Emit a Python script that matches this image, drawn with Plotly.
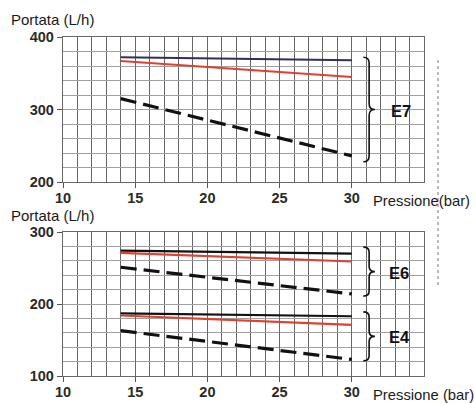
import plotly.graph_objects as go

# ---- data ----
pressure = [14, 30]
e7_top = [372, 368]
e7_red = [367, 345]
e7_dash = [315, 236]
e6_top = [274, 270]
e6_red = [271, 259]
e6_dash = [251, 214]
e4_top = [187, 183]
e4_red = [184, 171]
e4_dash = [163, 123]

x_ticks = [10, 15, 20, 25, 30]
y_ticks_top = [200, 300, 400]
y_ticks_bot = [100, 200, 300]

W, H = 476, 403
fig = go.Figure()

RED = "#e2402f"
NAVY = "#30305a"
BLK = "#111111"
DASH = "16px,7px"

def add(x, y, color, dash=None, width=2.0, ax="1"):
    fig.add_trace(go.Scatter(
        x=x, y=y, mode="lines",
        line=dict(color=color, width=width, dash=dash or "solid"),
        xaxis="x" if ax == "1" else "x2",
        yaxis="y" if ax == "1" else "y2",
        showlegend=False, hoverinfo="skip"))

add(pressure, e7_top, NAVY, width=2.0)
add(pressure, e7_red, RED, width=2.0)
add(pressure, e7_dash, BLK, dash=DASH, width=3.2)

add(pressure, e6_top, BLK, width=2.2, ax="2")
add(pressure, e6_red, RED, width=2.2, ax="2")
add(pressure, e6_dash, BLK, dash=DASH, width=3.2, ax="2")
add(pressure, e4_top, BLK, width=2.2, ax="2")
add(pressure, e4_red, RED, width=2.2, ax="2")
add(pressure, e4_dash, BLK, dash=DASH, width=3.2, ax="2")

xdom = [63 / W, 424 / W]
tickfont = dict(family="Liberation Sans", size=14.5, color="#2a2a2a", weight="bold")

def xaxis(anchor):
    return dict(
        domain=xdom, range=[10, 35], anchor=anchor,
        tickvals=x_ticks, ticks="outside", ticklen=5, tickcolor="#555",
        tickfont=tickfont, ticklabelstandoff=-3,
        showgrid=True, gridcolor="#686868", gridwidth=1.4,
        minor=dict(dtick=1, tick0=10, showgrid=True, gridcolor="#686868", gridwidth=1.4),
        showline=True, linecolor="#686868", linewidth=1.4, mirror=True,
        zeroline=False, fixedrange=True, automargin=False)

def yaxis(anchor, dom, rng, vals):
    return dict(
        domain=dom, range=rng, anchor=anchor,
        tickvals=vals, ticks="outside", ticklen=5, tickcolor="#555",
        tickfont=tickfont,
        showgrid=True, gridcolor="#a0a0a0", gridwidth=1,
        minor=dict(dtick=20, tick0=rng[0], showgrid=True, gridcolor="#a0a0a0", gridwidth=1),
        showline=True, linecolor="#686868", linewidth=1.4, mirror=True,
        zeroline=False, fixedrange=True, automargin=False)

fig.update_layout(
    width=W, height=H,
    margin=dict(l=0, r=0, t=0, b=0),
    paper_bgcolor="white", plot_bgcolor="white",
    xaxis=xaxis("y"),
    yaxis=yaxis("x", [1 - 182 / H, 1 - 37 / H], [200, 400], y_ticks_top),
    xaxis2=xaxis("y2"),
    yaxis2=yaxis("x2", [1 - 376 / H, 1 - 232 / H], [100, 300], y_ticks_bot),
)

# braces
def brace(ytop, ybot, xr, yr, r):
    x0, xm, xt = 30.8, 31.2, 31.6
    ym = (ytop + ybot) / 2
    p = (f"M {x0},{ytop} Q {xm},{ytop} {xm},{ytop - r} "
         f"L {xm},{ym + r} Q {xm},{ym} {xt},{ym} "
         f"Q {xm},{ym} {xm},{ym - r} "
         f"L {xm},{ybot + r} Q {xm},{ybot} {x0},{ybot}")
    fig.add_shape(type="path", path=p, xref=xr, yref=yr,
                  line=dict(color="#111", width=1.6))

brace(372, 228, "x", "y", 8)
brace(279, 211, "x2", "y2", 7)
brace(189, 121, "x2", "y2", 7)

labfont = dict(family="Liberation Sans", size=16.5, color="#111", weight="bold")
fig.add_annotation(x=33.4, y=298, xref="x", yref="y", text="E7", showarrow=False, font=labfont)
fig.add_annotation(x=33.3, y=243, xref="x2", yref="y2", text="E6", showarrow=False, font=labfont)
fig.add_annotation(x=33.3, y=154, xref="x2", yref="y2", text="E4", showarrow=False, font=labfont)

txtfont = dict(family="Liberation Sans", size=15, color="#1a1a1a")
fig.add_annotation(x=9 / W, y=1 - 19 / H, xref="paper", yref="paper", xanchor="left",
                   yanchor="middle", text="Portata (L/h)", showarrow=False, font=txtfont)
fig.add_annotation(x=9 / W, y=1 - 216 / H, xref="paper", yref="paper", xanchor="left",
                   yanchor="middle", text="Portata (L/h)", showarrow=False, font=txtfont)
pfont = dict(family="Liberation Sans", size=14.8, color="#1a1a1a")
fig.add_annotation(x=371 / W, y=1 - 201 / H, xref="paper", yref="paper", xanchor="left",
                   yanchor="middle", text="Pressione(bar)", showarrow=False, font=pfont)
fig.add_annotation(x=371 / W, y=1 - 395 / H, xref="paper", yref="paper", xanchor="left",
                   yanchor="middle", text="Pressione (bar)", showarrow=False, font=pfont)

# scan artifact dotted line at right
fig.add_shape(type="line", x0=438 / W, x1=438 / W, y0=1 - 60 / H, y1=1 - 288 / H,
              xref="paper", yref="paper", line=dict(color="#777", width=1, dash="dot"))

fig.write_html("out.html", post_script="document.body.style.margin='0';",
               config={"displayModeBar": False})
